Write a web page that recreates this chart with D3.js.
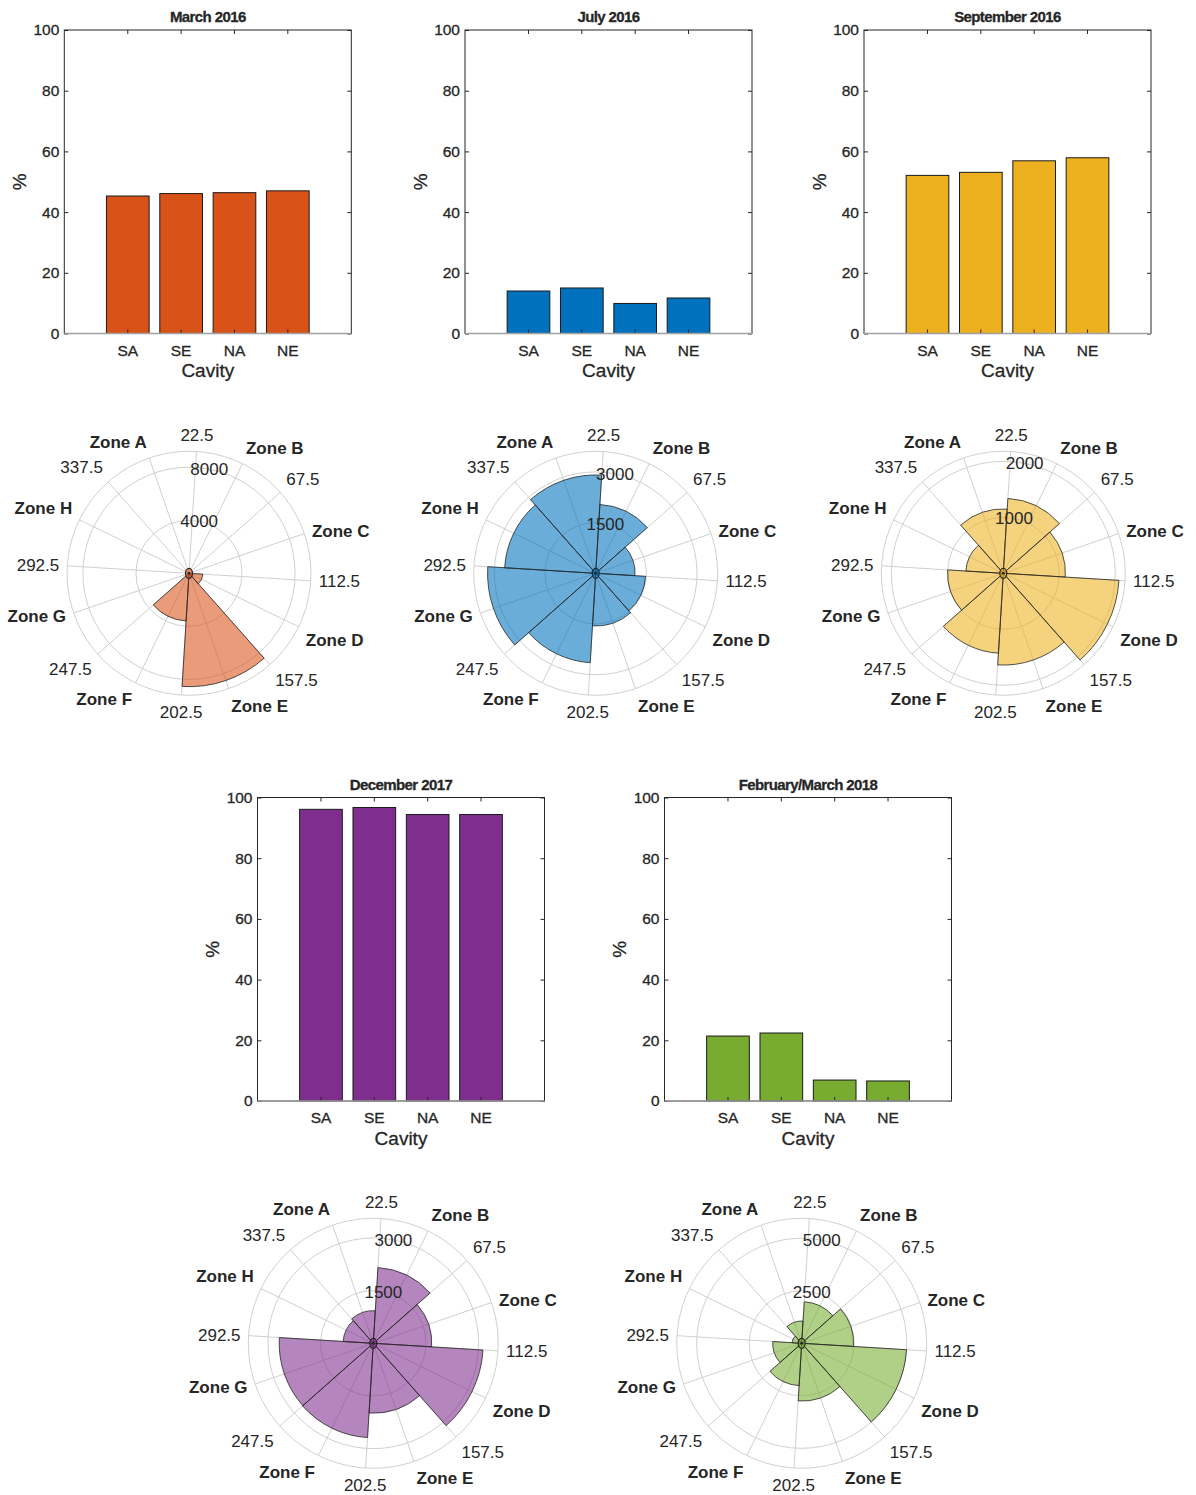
<!DOCTYPE html>
<html>
<head>
<meta charset="utf-8">
<script src="https://cdn.jsdelivr.net/npm/d3@7"></script>
<style>
  body { margin: 0; background: #fff; }
  text { font-family: "Liberation Sans", Arial, Helvetica, sans-serif; fill: #262626; }
  .barpanel text { stroke: #262626; stroke-width: 0.3px; }
</style>
</head>
<body>
<script>
// bar chart data (% per cavity)
let cavities = ['SA', 'SE', 'NA', 'NE'];
let pctTicks = [0, 20, 40, 60, 80, 100];
let pctMar16 = [45.3, 46.1, 46.4, 47.0];
let pctJul16 = [14.0, 15.0, 9.9, 11.7];
let pctSep16 = [52.1, 53.1, 56.9, 57.9];
let pctDec17 = [96.1, 96.7, 94.4, 94.4];
let pctFeb18 = [21.4, 22.4, 6.9, 6.6];

// rose data (counts per zone)
let zones = ['Zone A', 'Zone B', 'Zone C', 'Zone D', 'Zone E', 'Zone F', 'Zone G', 'Zone H'];
let zoneAngles = [0, 45, 90, 135, 180, 225, 270, 315];
let edgeAngles = [22.5, 67.5, 112.5, 157.5, 202.5, 247.5, 292.5, 337.5];
let countsMar16 = [0, 0, 0, 1050, 8550, 3600, 0, 0];
let countsJul16 = [2910, 2040, 1165, 1480, 1560, 2650, 3200, 2700];
let countsSep16 = [1150, 1340, 1110, 2070, 1640, 1430, 995, 670];
let countsDec17 = [930, 2160, 1665, 3130, 1990, 2690, 2680, 860];
let countsFeb18 = [1060, 1980, 2470, 5000, 2750, 2020, 1380, 460];
let rTicksMar16 = [4000, 8000], rMaxMar16 = 9200;
let rTicksJul16 = [1500, 3000], rMaxJul16 = 3610;
let rTicksSep16 = [1000, 2000], rMaxSep16 = 2180;
let rTicksDec17 = [1500, 3000], rMaxDec17 = 3560;
let rTicksFeb18 = [2500, 5000], rMaxFeb18 = 5950;

let svg = d3.select('body').append('svg')
    .attr('width', 1196)
    .attr('height', 1495);

function drawBars(left, top, title, values, color) {
  let w = 287, h = 303.5;
  let g = svg.append('g')
      .attr('class', 'barpanel')
      .attr('transform', 'translate(' + left + ',' + top + ')');

  let x = d3.scaleBand().domain(cavities).range([0, w])
      .paddingInner(0.2).paddingOuter(0.79);
  let y = d3.scaleLinear().domain([0, 100]).range([h, 0]);

  g.selectAll('rect.bar').data(values).join('rect')
      .attr('class', 'bar')
      .attr('x', function(d, i) { return x(cavities[i]); })
      .attr('y', function(d) { return y(d); })
      .attr('width', x.bandwidth())
      .attr('height', function(d) { return h - y(d); })
      .attr('fill', color)
      .attr('stroke', '#1a1a1a')
      .attr('stroke-width', 1);

  // inward ticks on all four sides, like the original
  let yl = g.append('g').call(d3.axisLeft(y).tickValues(pctTicks).tickSize(-4).tickPadding(5));
  let yr = g.append('g').attr('transform', 'translate(' + w + ',0)')
      .call(d3.axisRight(y).tickValues(pctTicks).tickSize(-4).tickFormat(''));
  let xt = g.append('g').call(d3.axisTop(x).tickSize(-4).tickFormat(''));
  let xb = g.append('g').attr('transform', 'translate(0,' + h + ')')
      .call(d3.axisBottom(x).tickSize(-4).tickPadding(11));
  [yl, yr, xt, xb].forEach(function(a) {
    a.select('.domain').remove();
    a.selectAll('line').attr('stroke', '#262626');
    a.selectAll('text').style('font-size', '15.5px').attr('fill', '#262626');
  });

  g.append('rect')
      .attr('width', w).attr('height', h)
      .attr('fill', 'none').attr('stroke', '#262626').attr('stroke-width', 1);

  // bar baseline
  g.append('line')
      .attr('x1', 0).attr('x2', w)
      .attr('y1', y(0)).attr('y2', y(0))
      .attr('stroke', '#a0a0a0').attr('stroke-width', 1.6);

  g.append('text')
      .attr('x', w / 2).attr('y', -13)
      .attr('dy', '0.35em')
      .attr('text-anchor', 'middle')
      .style('font-size', '15px').style('font-weight', 'bold')
      .style('letter-spacing', '-0.6px')
      .text(title);

  g.append('text')
      .attr('x', w / 2).attr('y', h + 37)
      .attr('dy', '0.35em')
      .attr('text-anchor', 'middle')
      .style('font-size', '19px')
      .text('Cavity');

  g.append('text')
      .attr('transform', 'translate(' + (-45) + ',' + (h / 2) + ') rotate(-90)')
      .attr('dy', '0.35em')
      .attr('text-anchor', 'middle')
      .style('font-size', '19px')
      .text('%');
}

let rot = -19; // theta 0 sits 19 deg left of north, clockwise

function drawRose(cx, cy, R, counts, rTicks, rMax, color) {
  let g = svg.append('g').attr('transform', 'translate(' + cx + ',' + cy + ')');
  let r = d3.scaleLinear().domain([0, rMax]).range([0, R]);
  let a = d3.scaleLinear().domain([0, 360]).range([rot, 360 + rot]);
  let rad = function(t) { return a(t) * Math.PI / 180; };

  g.selectAll('circle.ring').data(rTicks.concat([rMax])).join('circle')
      .attr('class', 'ring')
      .attr('r', function(d) { return r(d); })
      .attr('fill', 'none')
      .attr('stroke', '#d0d0d0')
      .attr('stroke-width', 1);

  let thetaTicks = d3.range(0, 360, 22.5);
  g.selectAll('line.spoke').data(thetaTicks).join('line')
      .attr('class', 'spoke')
      .attr('x2', function(d) { return R * Math.sin(rad(d)); })
      .attr('y2', function(d) { return -R * Math.cos(rad(d)); })
      .attr('stroke', '#d0d0d0')
      .attr('stroke-width', 1);

  let arc = d3.arc().innerRadius(0);
  let wedges = counts.map(function(c, i) { return { c: c, mid: zoneAngles[i] }; })
      .filter(function(d) { return d.c > 0; });
  g.selectAll('path.wedge').data(wedges).join('path')
      .attr('class', 'wedge')
      .attr('d', function(d) {
        return arc({ outerRadius: r(d.c), startAngle: rad(d.mid - 22.5), endAngle: rad(d.mid + 22.5) });
      })
      .attr('fill', color)
      .attr('fill-opacity', 0.58)
      .attr('stroke', '#262626')
      .attr('stroke-width', 0.8);

  // theta labels: zones and bin edges alternate
  let labels = zones.map(function(z, i) { return { t: zoneAngles[i], s: z, bold: true }; })
      .concat(edgeAngles.map(function(e) { return { t: e, s: String(e), bold: false }; }));
  g.selectAll('text.theta').data(labels).join('text')
      .attr('class', 'theta')
      .each(function(d) {
        let th = rad(d.t), sx = Math.sin(th), sy = -Math.cos(th);
        d3.select(this)
            .attr('x', (R + 8) * sx)
            .attr('y', (R + 8) * sy)
            .attr('text-anchor', sx > 0.2 ? 'start' : (sx < -0.2 ? 'end' : 'middle'))
            .attr('dy', sy < -0.38 ? '-0.15em' : (sy > 0.38 ? '0.9em' : '0.35em'));
      })
      .style('font-size', '17px')
      .style('font-weight', function(d) { return d.bold ? 'bold' : 'normal'; })
      .text(function(d) { return d.s; });

  g.selectAll('text.rtick').data(rTicks).join('text')
      .attr('class', 'rtick')
      .attr('x', function(d) { return r(d) * Math.sin(rad(30)); })
      .attr('y', function(d) { return -r(d) * Math.cos(rad(30)); })
      .attr('dy', '0.35em')
      .attr('text-anchor', 'middle')
      .style('font-size', '17px')
      .text(function(d) { return d; });

  g.append('ellipse')
      .attr('rx', 3.5).attr('ry', 5)
      .attr('fill', color).attr('fill-opacity', 0.6)
      .attr('stroke', '#222').attr('stroke-width', 1.2);
  g.append('circle').attr('r', 1.3).attr('fill', '#222');
}

drawBars(64.3, 30, 'March 2016', pctMar16, '#D95319');
drawBars(465, 30, 'July 2016', pctJul16, '#0072BD');
drawBars(864, 30, 'September 2016', pctSep16, '#EDB120');
drawBars(257.5, 797.5, 'December 2017', pctDec17, '#7E2F8E');
drawBars(664.5, 797.5, 'February/March 2018', pctFeb18, '#77AC30');

drawRose(189, 573.3, 122, countsMar16, rTicksMar16, rMaxMar16, '#D95319');
drawRose(595.7, 573.3, 122, countsJul16, rTicksJul16, rMaxJul16, '#0072BD');
drawRose(1003.3, 573.3, 122, countsSep16, rTicksSep16, rMaxSep16, '#EDB120');
drawRose(373.3, 1343.3, 125, countsDec17, rTicksDec17, rMaxDec17, '#7E2F8E');
drawRose(801.7, 1343.3, 125, countsFeb18, rTicksFeb18, rMaxFeb18, '#77AC30');
</script>
</body>
</html>
